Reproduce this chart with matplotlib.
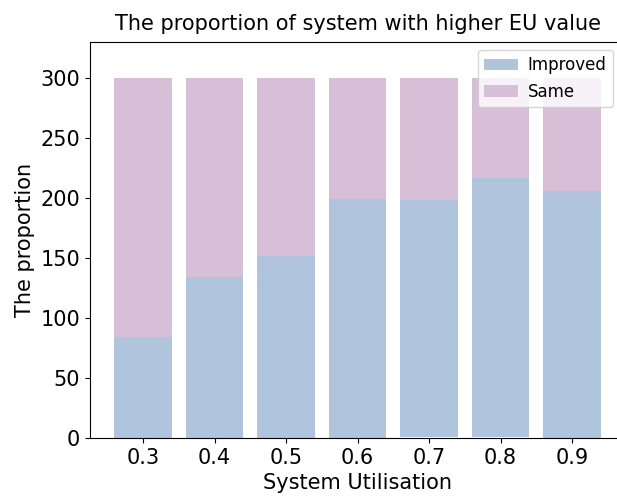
import matplotlib.pyplot as plt
import numpy as np

utilisation = ['0.3', '0.4', '0.5', '0.6', '0.7', '0.8', '0.9']
worse = [0, 0, 0, 0, 1, 1, 0]
improved = [84, 134, 152, 199, 197, 216, 206]
same = [216, 166, 148, 101, 102, 83, 94]

x = np.arange(len(utilisation))
worse = np.array(worse)
improved = np.array(improved)
same = np.array(same)

fig = plt.figure(figsize=(6.17, 4.98), dpi=100)
ax = fig.add_axes([0.146, 0.1205, 0.867, 0.795])

# worse cases are drawn in white underneath
ax.bar(x, worse, color='white', width=0.8)
ax.bar(x, improved, bottom=worse, color='lightsteelblue', width=0.8, label='Improved')
ax.bar(x, same, bottom=worse + improved, color='thistle', width=0.8, label='Same')

ax.set_xticks(x)
ax.set_xticklabels(utilisation)
ax.set_ylim(0, 330)
ax.tick_params(labelsize=15)
ax.set_xlabel('System Utilisation', fontsize=15)
ax.set_ylabel('The proportion', fontsize=15)
ax.set_title('The proportion of system with higher EU value', fontsize=15, pad=9)
ax.legend(loc='upper right', fontsize=12, borderaxespad=0, handletextpad=0.6,
          bbox_to_anchor=(0.994, 0.9), bbox_transform=fig.transFigure)

plt.savefig('out.png', dpi=100)
